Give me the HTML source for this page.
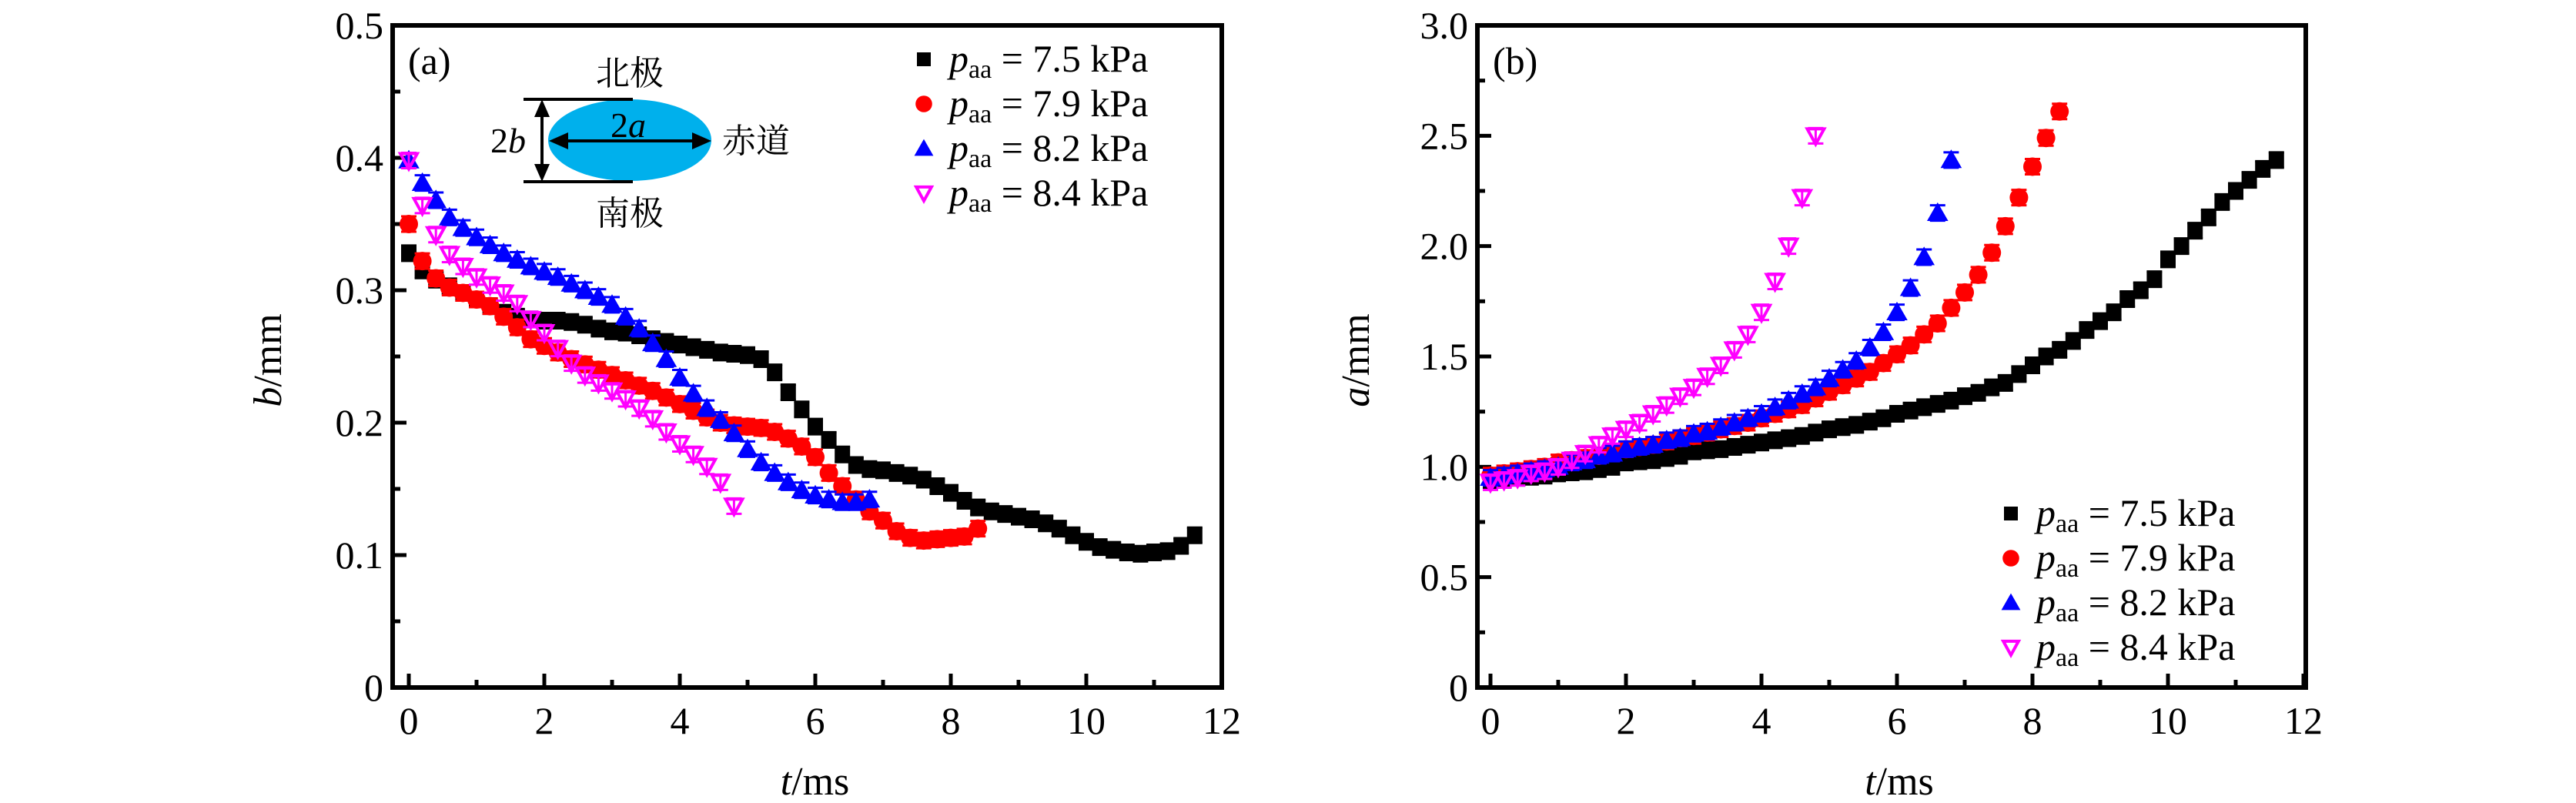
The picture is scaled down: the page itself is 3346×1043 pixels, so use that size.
<!DOCTYPE html>
<html><head><meta charset="utf-8">
<style>
html,body{margin:0;padding:0;background:#fff;}
svg{display:block;}
text{font-family:"Liberation Serif","Noto Serif CJK SC",serif;fill:#000;}
</style></head>
<body>
<svg id="fig" width="3346" height="1043" viewBox="0 0 3346 1043" xmlns="http://www.w3.org/2000/svg">
<g id="panelA"></g>
<g id="panelB"></g>
</svg>
<script>
// ---- data ----
const tA75 = [0,0.2,0.4,0.6,0.8,1.0,1.2,1.4,1.6,1.8,2.0,2.2,2.4,2.6,2.8,3.0,3.2,3.4,3.6,3.8,4.0,4.2,4.4,4.6,4.8,5.0,5.2,5.4,5.6,5.8,6.0,6.2,6.4,6.6,6.8,7.0,7.2,7.4,7.6,7.8,8.0,8.2,8.4,8.6,8.8,9.0,9.2,9.4,9.6,9.8,10.0,10.2,10.4,10.6,10.8,11.0,11.2,11.4,11.6];
const bA75 = [0.328,0.315,0.308,0.303,0.298,0.293,0.288,0.283,0.280,0.278,0.277,0.277,0.276,0.274,0.271,0.269,0.268,0.266,0.263,0.261,0.259,0.257,0.255,0.253,0.252,0.251,0.248,0.238,0.223,0.210,0.197,0.187,0.176,0.168,0.165,0.164,0.162,0.160,0.157,0.152,0.147,0.141,0.136,0.133,0.131,0.129,0.127,0.124,0.120,0.115,0.110,0.106,0.104,0.102,0.101,0.102,0.103,0.107,0.115];
const tA79 = [0,0.2,0.4,0.6,0.8,1.0,1.2,1.4,1.6,1.8,2.0,2.2,2.4,2.6,2.8,3.0,3.2,3.4,3.6,3.8,4.0,4.2,4.4,4.6,4.8,5.0,5.2,5.4,5.6,5.8,6.0,6.2,6.4,6.6,6.8,7.0,7.2,7.4,7.6,7.8,8.0,8.2,8.4];
const bA79 = [0.350,0.322,0.309,0.302,0.298,0.293,0.288,0.280,0.272,0.263,0.258,0.253,0.248,0.244,0.240,0.236,0.232,0.228,0.224,0.219,0.214,0.209,0.204,0.200,0.198,0.197,0.196,0.193,0.188,0.182,0.174,0.162,0.152,0.142,0.133,0.126,0.118,0.113,0.111,0.112,0.113,0.114,0.120];
const tA82 = [0,0.2,0.4,0.6,0.8,1.0,1.2,1.4,1.6,1.8,2.0,2.2,2.4,2.6,2.8,3.0,3.2,3.4,3.6,3.8,4.0,4.2,4.4,4.6,4.8,5.0,5.2,5.4,5.6,5.8,6.0,6.2,6.4,6.6,6.8];
const bA82 = [0.398,0.381,0.368,0.355,0.347,0.340,0.334,0.328,0.323,0.318,0.314,0.310,0.305,0.300,0.295,0.289,0.280,0.271,0.260,0.248,0.234,0.222,0.211,0.202,0.192,0.180,0.170,0.162,0.155,0.149,0.145,0.142,0.140,0.140,0.142];
const tA84 = [0,0.2,0.4,0.6,0.8,1.0,1.2,1.4,1.6,1.8,2.0,2.2,2.4,2.6,2.8,3.0,3.2,3.4,3.6,3.8,4.0,4.2,4.4,4.6,4.8];
const bA84 = [0.398,0.364,0.342,0.327,0.318,0.310,0.304,0.298,0.290,0.278,0.268,0.256,0.245,0.236,0.230,0.224,0.218,0.211,0.203,0.193,0.184,0.176,0.167,0.155,0.137];

const aB75 = [0.94,0.945,0.95,0.955,0.96,0.97,0.975,0.98,0.99,1.0,1.02,1.025,1.03,1.04,1.05,1.07,1.075,1.08,1.09,1.10,1.11,1.12,1.13,1.14,1.155,1.17,1.18,1.19,1.205,1.22,1.24,1.255,1.27,1.285,1.30,1.32,1.335,1.36,1.38,1.42,1.46,1.50,1.53,1.57,1.62,1.66,1.70,1.76,1.80,1.85,1.94,2.0,2.07,2.13,2.20,2.25,2.30,2.35,2.39];
const tB79 = [0,0.2,0.4,0.6,0.8,1.0,1.2,1.4,1.6,1.8,2.0,2.2,2.4,2.6,2.8,3.0,3.2,3.4,3.6,3.8,4.0,4.2,4.4,4.6,4.8,5.0,5.2,5.4,5.6,5.8,6.0,6.2,6.4,6.6,6.8,7.0,7.2,7.4,7.6,7.8,8.0,8.2,8.4];
const aB79 = [0.96,0.97,0.98,0.99,1.0,1.02,1.03,1.04,1.05,1.065,1.08,1.09,1.10,1.115,1.13,1.14,1.155,1.17,1.185,1.20,1.22,1.24,1.26,1.28,1.31,1.34,1.37,1.40,1.43,1.47,1.51,1.55,1.60,1.65,1.72,1.79,1.87,1.97,2.09,2.22,2.36,2.49,2.61];
const tB82 = [0,0.2,0.4,0.6,0.8,1.0,1.2,1.4,1.6,1.8,2.0,2.2,2.4,2.6,2.8,3.0,3.2,3.4,3.6,3.8,4.0,4.2,4.4,4.6,4.8,5.0,5.2,5.4,5.6,5.8,6.0,6.2,6.4,6.6,6.8];
const aB82 = [0.95,0.96,0.97,0.98,0.99,1.0,1.02,1.03,1.05,1.06,1.08,1.09,1.10,1.12,1.13,1.15,1.16,1.18,1.20,1.22,1.24,1.27,1.30,1.33,1.36,1.40,1.44,1.48,1.54,1.61,1.70,1.81,1.95,2.15,2.39];
const tB84 = [0,0.2,0.4,0.6,0.8,1.0,1.2,1.4,1.6,1.8,2.0,2.2,2.4,2.6,2.8,3.0,3.2,3.4,3.6,3.8,4.0,4.2,4.4,4.6,4.8];
const aB84 = [0.93,0.94,0.95,0.97,0.98,1.0,1.03,1.06,1.10,1.14,1.17,1.20,1.24,1.28,1.32,1.36,1.41,1.46,1.53,1.60,1.70,1.84,2.00,2.22,2.50];

const xTicks = [0,2,4,6,8,10,12];
const yTicksA = [0,0.1,0.2,0.3,0.4,0.5];
const yTickLabelsA = ["0","0.1","0.2","0.3","0.4","0.5"];
const yTicksB = [0,0.5,1.0,1.5,2.0,2.5,3.0];
const yTickLabelsB = ["0","0.5","1.0","1.5","2.0","2.5","3.0"];
const legendLabels = ["7.5","7.9","8.2","8.4"];

const NS="http://www.w3.org/2000/svg";
function mk(parent,tag,attrs){const e=document.createElementNS(NS,tag);for(const k in attrs)e.setAttribute(k,attrs[k]);parent.appendChild(e);return e;}

function marker(g,type,cx,cy,s){
  let e;
  if(type==='sq'){e=mk(g,'rect',{x:cx-s*0.5,y:cy-s*0.5,width:s,height:s,fill:'#000'});}
  else if(type==='ci'){e=mk(g,'circle',{cx:cx,cy:cy,r:s*0.6,fill:'#f00'});}
  else if(type==='tu'){const h=s*1.15;e=mk(g,'polygon',{points:`${cx},${cy-h*0.6} ${cx-h*0.6},${cy+h*0.45} ${cx+h*0.6},${cy+h*0.45}`,fill:'#00f'});}
  else {const h=s*1.0;e=mk(g,'polygon',{points:`${cx-h*0.55},${cy-h*0.45} ${cx+h*0.55},${cy-h*0.45} ${cx},${cy+h*0.55}`,fill:'none',stroke:'#f0f','stroke-width':4});}
  return e;
}

function panel(root,opt){
  const L=opt.L,R=opt.R,T=33,B=893;
  const x0=opt.x0, pxu=88;
  const X=v=>x0+v*pxu;
  const Y=v=>B-(v/opt.ymax)*(B-T);
  xTicks.forEach(v=>{
    const t=mk(root,'line',{x1:X(v),x2:X(v),y1:B,y2:B-18,stroke:'#000','stroke-width':5});
    
    
    if(v<12){
      const m=mk(root,'line',{x1:X(v+1),x2:X(v+1),y1:B,y2:B-10,stroke:'#000','stroke-width':5});
      
      
    }
    const tx=mk(root,'text',{x:X(v),y:B+60,'font-size':50,'text-anchor':'middle'});
    tx.textContent=String(v);
    
    
  });
  opt.yt.forEach((v,i)=>{
    const t=mk(root,'line',{x1:L,x2:L+18,y1:Y(v),y2:Y(v),stroke:'#000','stroke-width':5});
    
    
    if(i<opt.yt.length-1){const mv=(v+opt.yt[i+1])/2;
      const m=mk(root,'line',{x1:L,x2:L+10,y1:Y(mv),y2:Y(mv),stroke:'#000','stroke-width':5});
      
      }
    const tx=mk(root,'text',{x:L-12,y:Y(v)+17,'font-size':50,'text-anchor':'end'});
    tx.textContent=opt.yl[i];
    
    
  });
  opt.series.forEach(s=>{
    const g=mk(root,'g',{});
    
    
    s.t.forEach((tv,i)=>{
      const cx=X(tv),cy=Y(s.v[i]);
      const eb=mk(g,'path',{d:`M${cx-10},${cy-10}h20M${cx},${cy-10}v20M${cx-10},${cy+10}h20`,stroke:s.col,'stroke-width':3,fill:'none'});
      
      
      const m=marker(g,s.type,cx,cy,20);
      
      
    });
  });
  const fr=mk(root,'rect',{x:L,y:T,width:R-L,height:B-T,fill:'none',stroke:'#000','stroke-width':6});
  
  
  const types=['sq','ci','tu','td'];
  legendLabels.forEach((lab,i)=>{
    const cy=opt.legY+i*58;
    const g=mk(root,'g',{});
    
    
    marker(g,types[i],opt.legX,cy,18);
    const tx=mk(g,'text',{x:opt.legX+33,y:cy+16,'font-size':50});
    tx.innerHTML='<tspan font-style="italic">p</tspan><tspan font-size="34" dy="8">aa</tspan><tspan dy="-8"> = '+lab+'  kPa</tspan>';
    tx.setAttribute('xml:space','preserve');
  });
  const xt=mk(root,'text',{x:(L+R)/2+10,y:1032,'font-size':52,'text-anchor':'middle'});
  xt.innerHTML='<tspan font-style="italic">t</tspan>/ms';
  
  
  const yt=mk(root,'text',{x:0,y:0,'font-size':52,'text-anchor':'middle',transform:`translate(${opt.ytx},468) rotate(-90)`});
  yt.innerHTML='<tspan font-style="italic">'+opt.yvar+'</tspan>/mm';
  
  
  const pl=mk(root,'text',{x:L+20,y:96,'font-size':50});
  pl.textContent=opt.label;
  
  
}

const pA=document.getElementById('panelA');
panel(pA,{L:510,R:1587,x0:531,ymax:0.5,yt:yTicksA,yl:yTickLabelsA,legX:1200,legY:77,ytx:365,yvar:'b',label:'(a)',
  series:[{name:'7.5kpa',t:tA75,v:bA75,type:'sq',col:'#000'},{name:'7.9kpa',t:tA79,v:bA79,type:'ci',col:'#f00'},{name:'8.2kpa',t:tA82,v:bA82,type:'tu',col:'#00f'},{name:'8.4kpa',t:tA84,v:bA84,type:'td',col:'#f0f'}]});
const pB=document.getElementById('panelB');
panel(pB,{L:1919,R:2995,x0:1936,ymax:3.0,yt:yTicksB,yl:yTickLabelsB,legX:2612,legY:667,ytx:1778,yvar:'a',label:'(b)',
  series:[{name:'7.5kpa',t:tA75,v:aB75,type:'sq',col:'#000'},{name:'7.9kpa',t:tB79,v:aB79,type:'ci',col:'#f00'},{name:'8.2kpa',t:tB82,v:aB82,type:'tu',col:'#00f'},{name:'8.4kpa',t:tB84,v:aB84,type:'td',col:'#f0f'}]});

const ins=mk(pA,'g',{});


mk(ins,'ellipse',{cx:818,cy:182,rx:106,ry:53,fill:'#00b0ec'});
mk(ins,'line',{x1:680,x2:822,y1:129,y2:129,stroke:'#000','stroke-width':4});
mk(ins,'line',{x1:680,x2:822,y1:236,y2:236,stroke:'#000','stroke-width':4});
mk(ins,'line',{x1:704,x2:704,y1:140,y2:225,stroke:'#000','stroke-width':4});
mk(ins,'polygon',{points:'704,129 694,152 714,152',fill:'#000'});
mk(ins,'polygon',{points:'704,236 694,213 714,213',fill:'#000'});
mk(ins,'line',{x1:725,x2:912,y1:183,y2:183,stroke:'#000','stroke-width':4});
mk(ins,'polygon',{points:'713,183 738,172 738,194',fill:'#000'});
mk(ins,'polygon',{points:'924,183 899,172 899,194',fill:'#000'});
const t2b=mk(ins,'text',{x:660,y:198,'font-size':46,'text-anchor':'middle'});t2b.innerHTML='2<tspan font-style="italic">b</tspan>';
const t2a=mk(ins,'text',{x:816,y:178,'font-size':46,'text-anchor':'middle'});t2a.innerHTML='2<tspan font-style="italic">a</tspan>';
const tn=mk(ins,'text',{x:818,y:110,'font-size':44,'text-anchor':'middle'});tn.textContent='北极';
const ts=mk(ins,'text',{x:818,y:292,'font-size':44,'text-anchor':'middle'});ts.textContent='南极';
const te=mk(ins,'text',{x:982,y:198,'font-size':44,'text-anchor':'middle'});te.textContent='赤道';
</script>
</body></html>
